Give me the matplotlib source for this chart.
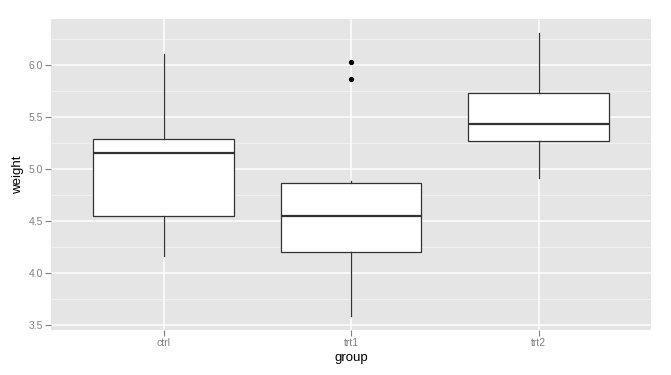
import matplotlib
matplotlib.use("Agg")
import matplotlib.pyplot as plt
import numpy as np

groups = ["ctrl", "trt1", "trt2"]
ctrl = [4.17, 5.58, 5.18, 6.11, 4.50, 4.61, 5.17, 4.53, 5.33, 5.14]
trt1 = [4.81, 4.17, 4.41, 3.59, 5.87, 3.83, 6.03, 4.89, 4.32, 4.69]
trt2 = [6.31, 5.12, 5.54, 5.50, 5.37, 5.29, 4.92, 6.15, 5.80, 5.26]
yticks = [3.5, 4.0, 4.5, 5.0, 5.5, 6.0]
yminor = [3.75, 4.25, 4.75, 5.25, 5.75, 6.25]

plt.rcParams['font.family'] = ['Liberation Sans', 'DejaVu Sans']

fig = plt.figure(figsize=(6.71, 3.75), dpi=100)
ax = fig.add_axes([51/671, 45/375, 600/671, 311/375])
ax.set_facecolor('#E5E5E5')

for y in yminor:
    ax.axhline(y, color='#F2F2F2', lw=0.7, zorder=0)
for y in yticks:
    ax.axhline(y, color='white', lw=1.1, zorder=0)
for x in range(1, 4):
    ax.axvline(x, color='white', lw=1.1, zorder=0)

ec = '#333333'
ax.boxplot([ctrl, trt1, trt2], positions=[1, 2, 3], widths=0.75,
           patch_artist=True, whis=1.5,
           boxprops=dict(facecolor='white', edgecolor=ec, linewidth=0.9),
           medianprops=dict(color=ec, linewidth=1.6),
           whiskerprops=dict(color=ec, linewidth=0.9),
           capprops=dict(linewidth=0),
           flierprops=dict(marker='o', markerfacecolor='black',
                           markeredgecolor='black', markersize=2.8),
           zorder=2)

ax.set_xlim(0.4, 3.6)
ax.set_ylim(3.454, 6.446)
ax.set_xticks([1, 2, 3])
ax.set_xticklabels(groups)
ax.set_yticks(yticks)
ax.set_yticklabels([f"{v:.1f}" for v in yticks])
ax.tick_params(axis='both', colors='#7F7F7F', labelcolor='#7F7F7F',
               labelsize=7.5, length=4, width=0.8, pad=2)
for s in ax.spines.values():
    s.set_visible(False)

ax.set_xlabel('group', fontsize=9.5, color='black', labelpad=3)
ax.set_ylabel('weight', fontsize=9.5, color='black', labelpad=3)

fig.savefig('out.png', dpi=100)
